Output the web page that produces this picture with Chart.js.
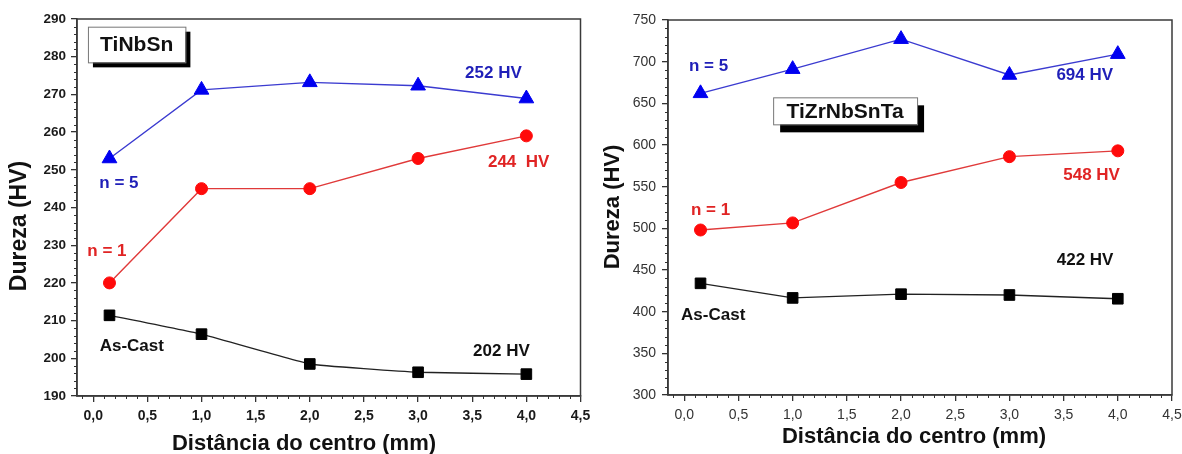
<!DOCTYPE html>
<html><head><meta charset="utf-8">
<script src="https://cdn.jsdelivr.net/npm/chart.js@4/dist/chart.umd.min.js"></script>
<style>
html,body{margin:0;padding:0;background:#fff;}
#wrap{position:relative;width:1182px;height:454px;overflow:hidden;}
canvas{position:absolute;top:0;}
</style></head><body>
<div id="wrap">
<canvas id="c1" width="590" height="454" style="left:0"></canvas>
<canvas id="c2" width="592" height="454" style="left:590px"></canvas>
</div>
<script>
// ---- data ----
const distances = [0.15, 1, 2, 3, 4];
const xTickValues = [0, 0.5, 1, 1.5, 2, 2.5, 3, 3.5, 4, 4.5];
const xTickLabels = ['0,0','0,5','1,0','1,5','2,0','2,5','3,0','3,5','4,0','4,5'];
const seriesNames = ['n = 5', 'n = 1', 'As-Cast'];

const tinbsnN5 = [253, 271.2, 273.2, 272.3, 268.9];
const tinbsnN1 = [220, 245, 245, 253, 259];
const tinbsnAsCast = [211.4, 206.4, 198.5, 196.3, 195.8];
const tinbsnYTicks = [190, 200, 210, 220, 230, 240, 250, 260, 270, 280, 290];

const tizrN5 = [662, 691, 727, 684, 709];
const tizrN1 = [498, 506.5, 555, 586, 593];
const tizrAsCast = [434, 416.5, 421, 420, 415.5];
const tizrYTicks = [300, 350, 400, 450, 500, 550, 600, 650, 700, 750];

const FONT = "'Liberation Sans', Arial, sans-serif";

function minorList(a, b, step, majors) {
  const out = [];
  for (let k = Math.round(a / step); k * step <= b + 1e-9; k++) {
    const v = +(k * step).toFixed(4);
    if (!majors.some(m => Math.abs(m - v) < 1e-6)) out.push(v);
  }
  return out;
}

const decor = {
  id: 'decor',
  afterDraw(chart, args, o) {
    const {ctx, chartArea: ca} = chart;
    const x = chart.scales.x, y = chart.scales.y;
    ctx.save();
    ctx.strokeStyle = '#3a3a3a'; ctx.lineWidth = 1.5;
    ctx.strokeRect(ca.left, ca.top, ca.right - ca.left, ca.bottom - ca.top);
    ctx.beginPath();
    o.xMinor.forEach(v => { const px = Math.round(x.getPixelForValue(v)) + 0.5; ctx.moveTo(px, ca.bottom); ctx.lineTo(px, ca.bottom + 3); });
    o.yMinor.forEach(v => { const py = Math.round(y.getPixelForValue(v)) + 0.5; ctx.moveTo(ca.left, py); ctx.lineTo(ca.left - 3, py); });
    ctx.lineWidth = 1; ctx.strokeStyle = '#333'; ctx.stroke();
    const b = o.box;
    const bx1 = x.getPixelForValue(b.x1), bx2 = x.getPixelForValue(b.x2);
    const by1 = y.getPixelForValue(b.y1), by2 = y.getPixelForValue(b.y2);
    ctx.fillStyle = '#000';
    ctx.fillRect(bx1 + b.dx, by1 + b.dy, bx2 - bx1, by2 - by1);
    ctx.fillStyle = '#fff';
    ctx.fillRect(bx1, by1, bx2 - bx1, by2 - by1);
    ctx.strokeStyle = '#777'; ctx.lineWidth = 1;
    ctx.strokeRect(bx1 + 0.5, by1 + 0.5, bx2 - bx1, by2 - by1);
    ctx.fillStyle = '#111'; ctx.font = b.font; ctx.textAlign = 'center'; ctx.textBaseline = 'middle';
    ctx.fillText(b.text, (bx1 + bx2) / 2, (by1 + by2) / 2 + 1);
    o.labels.forEach(l => {
      ctx.font = 'bold 17px ' + FONT; ctx.fillStyle = l.color;
      ctx.textAlign = 'center'; ctx.textBaseline = 'middle';
      ctx.fillText(l.text, x.getPixelForValue(l.x), y.getPixelForValue(l.y));
    });
    ctx.fillStyle = '#111';
    ctx.font = 'bold ' + o.xTitle.size + 'px ' + FONT;
    ctx.textAlign = 'center'; ctx.textBaseline = 'middle';
    ctx.fillText(o.xTitle.text, o.xTitle.cx, o.xTitle.cy);
    ctx.save();
    ctx.translate(o.yTitle.cx, o.yTitle.cy); ctx.rotate(-Math.PI / 2);
    ctx.font = 'bold ' + o.yTitle.size + 'px ' + FONT;
    ctx.fillText(o.yTitle.text, 0, 0);
    ctx.restore();
    ctx.restore();
  }
};

function makeChart(id, c) {
  const pts = ys => distances.map((x, i) => ({x, y: ys[i]}));
  const ds = (label, ys, line, mark, style, r, tension) => ({
    label, data: pts(ys), borderColor: line, backgroundColor: mark,
    pointBackgroundColor: mark, pointBorderColor: mark, pointBorderWidth: 1,
    pointStyle: style, pointRadius: r, pointHoverRadius: r, borderWidth: 1.4,
    tension, fill: false
  });
  return new Chart(document.getElementById(id), {
    type: 'line',
    data: { datasets: [
      ds(seriesNames[0], c.n5, '#3b3bd0', '#0000f0', 'triangle', 8.5, 0),
      ds(seriesNames[1], c.n1, '#e03a3a', '#ff0a0a', 'circle', 6, 0),
      ds(seriesNames[2], c.asCast, '#222', '#000', 'rect', 7.5, c.blackTension)
    ]},
    options: {
      responsive: false, animation: false, devicePixelRatio: 1,
      layout: { padding: { left: 0, right: c.padRight, top: c.padTop, bottom: 0 } },
      plugins: { legend: { display: false }, tooltip: { enabled: false }, decor: c.decor },
      scales: {
        x: {
          type: 'linear', min: -0.15, max: 4.5,
          afterBuildTicks: s => { s.ticks = xTickValues.map(v => ({value: v})); },
          afterFit: s => { s.height = c.xAxisH; s.paddingLeft = 0; s.paddingRight = 0; },
          ticks: { callback: v => xTickLabels[xTickValues.findIndex(t => Math.abs(t - v) < 1e-6)],
                   font: { family: FONT, size: 14, weight: c.tickWeight }, color: c.tickColor, padding: 6, maxRotation: 0, autoSkip: false },
          grid: { drawOnChartArea: false, drawTicks: true, tickLength: 6, color: '#333', lineWidth: 1.3 },
          border: { display: true, color: '#3a3a3a', width: 1.5 }
        },
        y: {
          type: 'linear', min: c.yTicks[0], max: c.yTicks[c.yTicks.length - 1],
          afterBuildTicks: s => { s.ticks = c.yTicks.map(v => ({value: v})); },
          afterFit: s => { s.width = c.yAxisW; s.paddingTop = 0; s.paddingBottom = 0; },
          ticks: { font: { family: FONT, size: c.yTickSize, weight: c.tickWeight }, color: c.tickColor, padding: c.yTickPad, autoSkip: false },
          grid: { drawOnChartArea: false, drawTicks: true, tickLength: 6, color: '#333', lineWidth: 1.3 },
          border: { display: true, color: '#3a3a3a', width: 1.5 }
        }
      }
    },
    plugins: [decor]
  });
}

makeChart('c1', {
  n5: tinbsnN5, n1: tinbsnN1, asCast: tinbsnAsCast, yTicks: tinbsnYTicks, blackTension: 0.1,
  padRight: 8, padTop: 19, xAxisH: 58, yAxisW: 77, tickWeight: 'bold', tickColor: '#1a1a1a', yTickSize: 13.5, yTickPad: 5,
  decor: {
    xMinor: minorList(-0.1, 4.5, 0.1, xTickValues),
    yMinor: minorList(190, 290, 2, tinbsnYTicks),
    box: { text: 'TiNbSn', x1: -0.049, x2: 0.851, y1: 287.96, y2: 278.5, dx: 5, dy: 5, font: 'bold 21px ' + FONT },
    labels: [
      { text: 'n = 5', x: 0.237, y: 246.3, color: '#1f1fb8' },
      { text: 'n = 1', x: 0.126, y: 228.5, color: '#e02424' },
      { text: 'As-Cast', x: 0.356, y: 203.3, color: '#111' },
      { text: '252 HV', x: 3.696, y: 275.6, color: '#1f1fb8' },
      { text: '244  HV', x: 3.929, y: 252.1, color: '#e02424' },
      { text: '202 HV', x: 3.77, y: 201.9, color: '#111' }
    ],
    xTitle: { text: 'Distância do centro (mm)', cx: 304, cy: 444, size: 22 },
    yTitle: { text: 'Dureza (HV)', cx: 20, cy: 226, size: 23 }
  }
});

makeChart('c2', {
  n5: tizrN5, n1: tizrN1, asCast: tizrAsCast, yTicks: tizrYTicks, blackTension: 0,
  padRight: 10, padTop: 20, xAxisH: 59, yAxisW: 78, tickWeight: 'normal', tickColor: '#333', yTickSize: 14, yTickPad: 6,
  decor: {
    xMinor: minorList(-0.1, 4.5, 0.1, xTickValues),
    yMinor: minorList(300, 750, 10, tizrYTicks),
    box: { text: 'TiZrNbSnTa', x1: 0.82, x2: 2.148, y1: 657.2, y2: 624.8, dx: 7, dy: 8, font: 'bold 21px ' + FONT },
    labels: [
      { text: 'n = 5', x: 0.224, y: 694, color: '#1f1fb8' },
      { text: 'n = 1', x: 0.242, y: 521.2, color: '#e02424' },
      { text: 'As-Cast', x: 0.267, y: 396, color: '#111' },
      { text: '694 HV', x: 3.695, y: 683.2, color: '#1f1fb8' },
      { text: '548 HV', x: 3.758, y: 563.2, color: '#e02424' },
      { text: '422 HV', x: 3.698, y: 462, color: '#111' }
    ],
    xTitle: { text: 'Distância do centro (mm)', cx: 324, cy: 437, size: 22 },
    yTitle: { text: 'Dureza (HV)', cx: 23, cy: 207, size: 22 }
  }
});
</script>
</body></html>
